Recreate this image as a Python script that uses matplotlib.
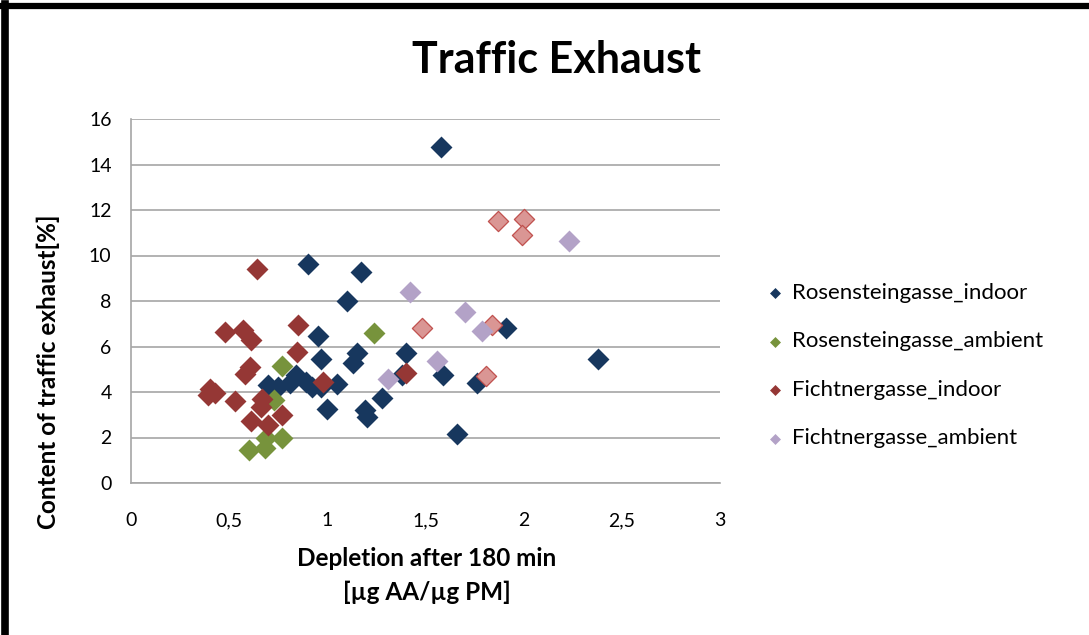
import matplotlib
matplotlib.use("Agg")
import matplotlib.pyplot as plt
from matplotlib.lines import Line2D
from matplotlib.ticker import FixedLocator, FuncFormatter

# Depletion after 180 min [µg AA/µg PM] vs. traffic exhaust content [%]
ros_indoor_x = [1.58, 0.90, 1.17, 1.10, 0.95, 1.91, 2.38, 1.38, 1.40, 1.15, 1.13, 0.97,
                1.59, 1.76, 1.05, 0.70, 0.75, 0.81, 0.84, 0.89, 0.92, 0.97, 1.28, 1.19,
                1.20, 1.00, 1.66]
ros_indoor_y = [14.75, 9.63, 9.29, 8.0, 6.45, 6.8, 5.44, 4.75, 5.72, 5.70, 5.29, 5.45,
                4.75, 4.38, 4.37, 4.31, 4.23, 4.38, 4.75, 4.45, 4.23, 4.23, 3.72, 3.20,
                2.88, 3.24, 2.17]

ros_ambient_x = [1.24, 0.77, 0.73, 0.77, 0.69, 0.68, 0.60]
ros_ambient_y = [6.61, 5.14, 3.65, 1.96, 1.96, 1.52, 1.45]

fich_indoor_x = [0.64, 0.48, 0.57, 0.61, 0.85, 0.845, 0.58, 0.607, 0.98, 1.40, 0.40,
                 0.39, 0.43, 0.53, 0.667, 0.66, 0.61, 0.70, 0.77]
fich_indoor_y = [9.41, 6.65, 6.72, 6.29, 6.95, 5.77, 4.80, 5.12, 4.43, 4.85, 4.12,
                 3.85, 3.95, 3.62, 3.68, 3.32, 2.72, 2.53, 3.0]

# Fichtnergasse indoor samples shown with lighter fill
fich_indoor_light_x = [1.87, 2.00, 1.99, 1.48, 1.84, 1.81]
fich_indoor_light_y = [11.51, 11.59, 10.90, 6.83, 6.95, 4.70]

fich_ambient_x = [2.23, 1.42, 1.70, 1.79, 1.56, 1.31]
fich_ambient_y = [10.64, 8.38, 7.50, 6.70, 5.38, 4.56]

x_ticks = [0, 0.5, 1, 1.5, 2, 2.5, 3]
y_ticks = [0, 2, 4, 6, 8, 10, 12, 14, 16]

FONT = "Lato"
plt.rcParams["font.family"] = [FONT, "DejaVu Sans"]

fig = plt.figure(figsize=(10.89, 6.35), dpi=100)
ax = fig.add_axes([131 / 1089, 1 - 483 / 635, (720 - 131) / 1089, (483 - 119) / 635])

ms = 125
ax.scatter(ros_indoor_x, ros_indoor_y, marker="D", s=ms, color="#17375E",
           linewidths=0, label="Rosensteingasse_indoor", zorder=3)
ax.scatter(ros_ambient_x, ros_ambient_y, marker="D", s=ms, color="#77933C",
           linewidths=0, label="Rosensteingasse_ambient", zorder=4)
ax.scatter(fich_indoor_x, fich_indoor_y, marker="D", s=ms, color="#953735",
           linewidths=0, label="Fichtnergasse_indoor", zorder=5)
ax.scatter(fich_indoor_light_x, fich_indoor_light_y, marker="D", s=ms * 0.85,
           facecolor="#DA9694", edgecolor="#C0504D", linewidths=0.9,
           label="_nolegend_", zorder=6)
ax.scatter(fich_ambient_x, fich_ambient_y, marker="D", s=ms, color="#B3A2C7",
           linewidths=0, label="Fichtnergasse_ambient", zorder=7)

ax.set_xlim(0, 3)
ax.set_ylim(0, 16)
ax.xaxis.set_major_locator(FixedLocator(x_ticks))
ax.yaxis.set_major_locator(FixedLocator(y_ticks))
ax.xaxis.set_major_formatter(FuncFormatter(lambda v, p: f"{v:g}".replace(".", ",")))
ax.yaxis.set_major_formatter(FuncFormatter(lambda v, p: f"{v:g}"))
ax.tick_params(axis="both", length=0, labelsize=14, colors="#000000")
ax.tick_params(axis="y", pad=14)
ax.tick_params(axis="x", pad=21)

ax.grid(axis="y", color="#A6A6A6", linewidth=1.2, zorder=0)
ax.set_axisbelow(True)
for side in ("top", "right"):
    ax.spines[side].set_visible(False)
for side in ("left", "bottom"):
    ax.spines[side].set_color("#A6A6A6")
    ax.spines[side].set_linewidth(1.2)

fig.text(557 / 1089, 1 - 60 / 635, "Traffic Exhaust", ha="center", va="center",
         fontsize=31, fontweight="bold")
fig.text(48 / 1089, 1 - 372 / 635, "Content of traffic exhaust[%]", rotation=90,
         ha="center", va="center", fontsize=17.5, fontweight="bold")
fig.text(427 / 1089, 1 - 558 / 635, "Depletion after 180 min", ha="center",
         va="center", fontsize=17.5, fontweight="bold")
fig.text(427 / 1089, 1 - 592 / 635, "[µg AA/µg PM]", ha="center",
         va="center", fontsize=17.5, fontweight="bold")

fig.legend(loc="upper left", bbox_to_anchor=(768 / 1089, 1 - 283 / 635),
           frameon=False, fontsize=16, markerscale=0.5, handlelength=0.6,
           handletextpad=0.5, labelspacing=1.28, borderpad=0, borderaxespad=0)

# frame edges along the top and left of the figure
fig.add_artist(Line2D([0, 1], [1 - 6 / 635, 1 - 6 / 635], color="black",
                      linewidth=4.5, transform=fig.transFigure))
fig.add_artist(Line2D([5 / 1089, 5 / 1089], [0, 1 - 4 / 635], color="black",
                      linewidth=5.5, transform=fig.transFigure))

fig.savefig("out.png", dpi=100)
